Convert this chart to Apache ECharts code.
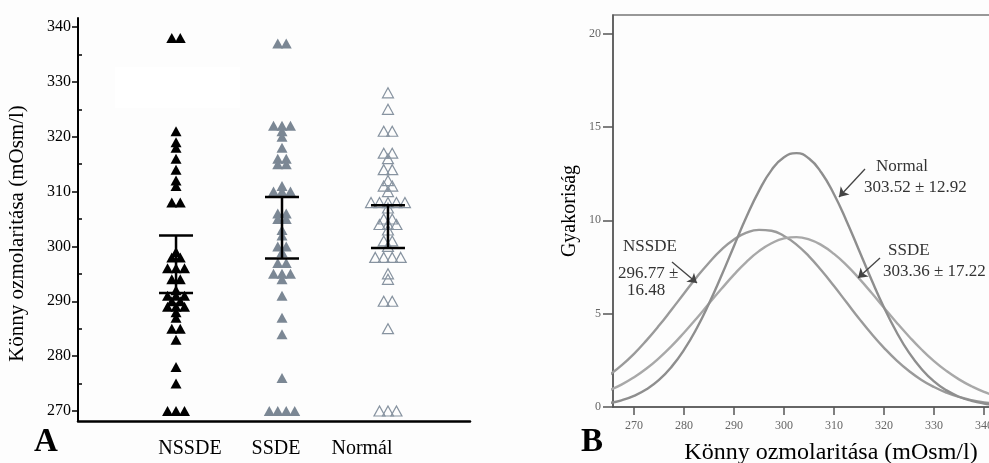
<!DOCTYPE html>
<html>
<head>
<meta charset="utf-8">
<title>Könny ozmolaritása</title>
<script src="https://cdn.jsdelivr.net/npm/echarts@6/dist/echarts.min.js"></script>
<style>
  html, body { margin: 0; padding: 0; background: #fdfdfd; }
  #chart { width: 989px; height: 463px; }
</style>
</head>
<body>
<div id="chart"></div>
<script>
// ---- panel A: individual values per group
var groups = ['NSSDE', 'SSDE', 'Normál'];
var nssde = [338, 338, 321, 319, 318, 316, 314, 312, 311, 308, 308,
  299, 298, 298, 296, 296, 296, 294, 294, 292, 291, 291, 291, 290, 290,
  289, 289, 289, 288, 287, 285, 285, 283, 278, 275, 270, 270, 270];
var ssde = [337, 337, 322, 322, 322, 321, 320, 318, 316, 316, 315, 315,
  311, 310, 310, 310, 306, 306, 305, 305, 303, 302, 300, 300, 299, 297, 297,
  295, 295, 295, 294, 291, 287, 284, 276, 270, 270, 270, 270];
var normal = [328, 325, 321, 321, 317, 317, 316, 314, 314, 312, 311, 311,
  310, 308, 308, 308, 308, 308, 307, 305, 305, 304, 304, 304, 303, 301, 301,
  300, 298, 298, 298, 298, 295, 294, 290, 290, 285, 270, 270, 270];
// interval bars (lower / upper cap)
var barLow = [291.5, 297.8, 299.7];
var barHigh = [302, 309, 307.5];
var yTicksA = [270, 280, 290, 300, 310, 320, 330, 340];
var yMinorA = [275, 285, 295, 305, 315, 325, 335];

// ---- panel B: fitted frequency curves
var curveX = [265, 267.5, 270, 272.5, 275, 277.5, 280, 282.5, 285, 287.5, 290, 292.5,
  295, 297.5, 300, 302.5, 305, 307.5, 310, 312.5, 315, 317.5, 320, 322.5,
  325, 327.5, 330, 332.5, 335, 337.5, 340, 342.5];
var curveNormal = [0.21, 0.36, 0.60, 0.95, 1.45, 2.15, 3.06, 4.19, 5.54, 7.04, 8.63, 10.19,
  11.58, 12.69, 13.38, 13.60, 13.31, 12.55, 11.40, 9.97, 8.40, 6.82, 5.33, 4.02,
  2.91, 2.04, 1.37, 0.89, 0.55, 0.33, 0.19, 0.11];
var curveSSDE = [0.89, 1.20, 1.59, 2.06, 2.62, 3.26, 3.98, 4.74, 5.54, 6.33, 7.09, 7.78,
  8.35, 8.77, 9.03, 9.10, 8.98, 8.67, 8.20, 7.60, 6.89, 6.12, 5.32, 4.53,
  3.78, 3.08, 2.46, 1.93, 1.48, 1.11, 0.81, 0.59];
var curveNSSDE = [1.70, 2.23, 2.85, 3.57, 4.36, 5.21, 6.08, 6.94, 7.73, 8.43, 8.97, 9.34,
  9.49, 9.44, 9.16, 8.70, 8.07, 7.31, 6.48, 5.61, 4.74, 3.92, 3.17, 2.50,
  1.93, 1.45, 1.07, 0.77, 0.54, 0.37, 0.25, 0.16];
var xTicksB = [270, 280, 290, 300, 310, 320, 330, 340];
var yTicksB = [0, 5, 10, 15, 20];

var SERIF = 'Liberation Serif, Times New Roman, serif';
var STEP = 0.08; // side-by-side spacing for equal values (x units)

// same values go side by side, centred on the group
function swarm(vals, center) {
  var counts = {}, seen = {};
  vals.forEach(function (v) { counts[v] = (counts[v] || 0) + 1; });
  return vals.map(function (v) {
    seen[v] = seen[v] === undefined ? 0 : seen[v] + 1;
    return [center + (seen[v] - (counts[v] - 1) / 2) * STEP, v];
  });
}

function zip(xs, ys) {
  return xs.map(function (x, i) { return [x, ys[i]]; });
}

function arrow(from, to) {
  return {
    silent: true,
    symbol: ['none', 'arrow'],
    symbolSize: 9,
    label: { show: false },
    lineStyle: { color: '#444', width: 1.3, type: 'solid' },
    data: [[{ coord: from }, { coord: to }]]
  };
}

function note(text, x, y) {
  return {
    type: 'text', left: x, top: y - 10,
    style: { text: text, fill: '#333', font: '17px ' + SERIF }
  };
}

var chart = echarts.init(document.getElementById('chart'));

var option = {
  animation: false,
  backgroundColor: '#fdfdfd',
  grid: [
    { left: 78, right: 519, top: 18, bottom: 42, outerBoundsMode: 'none', containLabel: false },
    { left: 613, right: -2, top: 15, bottom: 56, outerBoundsMode: 'none', containLabel: false,
      show: true, borderColor: '#777', borderWidth: 1.5 }
  ],
  xAxis: [
    {
      gridIndex: 0, type: 'value', min: 0.075, max: 3.774, position: 'bottom',
      axisLine: { onZero: false, lineStyle: { color: '#000', width: 2.5 } },
      axisTick: { show: false }, axisLabel: { show: false }, splitLine: { show: false }
    },
    {
      gridIndex: 0, type: 'value', min: -0.302, max: 4.256, position: 'bottom',
      axisLine: { show: false, onZero: false }, axisTick: { show: false }, splitLine: { show: false },
      axisLabel: {
        customValues: [1, 2, 3], margin: 18,
        color: '#000', fontSize: 20, fontFamily: SERIF,
        formatter: function (v) { return groups[Math.round(v) - 1]; }
      }
    },
    {
      gridIndex: 1, type: 'value', min: 265.8, max: 341.4,
      name: 'Könny ozmolaritása (mOsm/l)', nameLocation: 'middle', nameGap: 34,
      nameTextStyle: { color: '#000', fontSize: 24, fontFamily: SERIF, padding: [0, 0, 0, 58] },
      axisLine: { onZero: false, lineStyle: { color: '#555', width: 1.5 } },
      axisTick: { customValues: xTicksB, length: 8, lineStyle: { color: '#555', width: 1.5 } },
      axisLabel: { customValues: xTicksB, margin: 13, color: '#666', fontSize: 12, fontFamily: SERIF },
      splitLine: { show: false }
    }
  ],
  yAxis: [
    {
      gridIndex: 0, type: 'value', min: 268.17, max: 341.65, position: 'left',
      name: 'Könny ozmolaritása (mOsm/l)', nameLocation: 'middle', nameGap: 50,
      nameTextStyle: { color: '#000', fontSize: 21, fontFamily: SERIF, padding: [0, 28, 0, 0] },
      axisLine: { show: true, onZero: false, lineStyle: { color: '#000', width: 2 } },
      axisTick: { customValues: yTicksA, length: 6, lineStyle: { color: '#000', width: 1.5 } },
      axisLabel: { customValues: yTicksA, margin: 7, color: '#000', fontSize: 16, fontFamily: SERIF },
      splitLine: { show: false }
    },
    {
      gridIndex: 0, type: 'value', min: 268.17, max: 341.65, position: 'left', offset: 0,
      axisLine: { show: false, onZero: false }, axisLabel: { show: false }, splitLine: { show: false },
      axisTick: { customValues: yMinorA, inside: true, length: 4, lineStyle: { color: '#000', width: 1.5 } }
    },
    {
      gridIndex: 1, type: 'value', min: 0, max: 21,
      name: 'Gyakoriság', nameLocation: 'middle', nameGap: 33,
      nameTextStyle: { color: '#000', fontSize: 20, fontFamily: SERIF },
      axisLine: { show: true, onZero: false, lineStyle: { color: '#555', width: 1.5 } },
      axisTick: { customValues: yTicksB, length: 10, lineStyle: { color: '#555', width: 1.5 } },
      axisLabel: { customValues: yTicksB, margin: 12, color: '#666', fontSize: 12, fontFamily: SERIF },
      splitLine: { show: false }
    }
  ],
  series: [
    {
      type: 'scatter', xAxisIndex: 0, yAxisIndex: 0, symbol: 'triangle', symbolSize: [11, 10],
      itemStyle: { color: '#000', opacity: 1 }, data: swarm(nssde, 1)
    },
    {
      type: 'scatter', xAxisIndex: 0, yAxisIndex: 0, symbol: 'triangle', symbolSize: [11, 10],
      itemStyle: { color: '#7b8794', opacity: 1 }, data: swarm(ssde, 2)
    },
    {
      type: 'scatter', xAxisIndex: 0, yAxisIndex: 0, symbol: 'triangle', symbolSize: [11, 10],
      itemStyle: { color: 'transparent', borderColor: '#8793a0', borderWidth: 1.2, opacity: 1 },
      data: swarm(normal, 3)
    },
    {
      type: 'custom', xAxisIndex: 0, yAxisIndex: 0, z: 10,
      data: groups.map(function (g, i) { return [i + 1, barLow[i], barHigh[i]]; }),
      renderItem: function (params, api) {
        var x = api.value(0);
        var lo = api.coord([x, api.value(1)]);
        var hi = api.coord([x, api.value(2)]);
        var w = 17;
        var st = { stroke: '#000', lineWidth: 2.5 };
        return {
          type: 'group',
          children: [
            { type: 'line', shape: { x1: lo[0], y1: lo[1], x2: hi[0], y2: hi[1] }, style: st },
            { type: 'line', shape: { x1: lo[0] - w, y1: lo[1], x2: lo[0] + w, y2: lo[1] }, style: st },
            { type: 'line', shape: { x1: hi[0] - w, y1: hi[1], x2: hi[0] + w, y2: hi[1] }, style: st }
          ]
        };
      }
    },
    {
      type: 'line', xAxisIndex: 2, yAxisIndex: 2, smooth: true, symbol: 'none',
      lineStyle: { color: '#9a9a9a', width: 2.4 }, data: zip(curveX, curveNSSDE),
      markLine: arrow([277.6, 7.77], [282.6, 6.64])
    },
    {
      type: 'line', xAxisIndex: 2, yAxisIndex: 2, smooth: true, symbol: 'none',
      lineStyle: { color: '#a8a8a8', width: 2.4 }, data: zip(curveX, curveSSDE),
      markLine: arrow([319.2, 7.98], [314.8, 6.91])
    },
    {
      type: 'line', xAxisIndex: 2, yAxisIndex: 2, smooth: true, symbol: 'none',
      lineStyle: { color: '#8e8e8e', width: 2.4 }, data: zip(curveX, curveNormal),
      markLine: arrow([316.2, 12.75], [311.0, 11.25])
    }
  ],
  graphic: [
    { type: 'rect', left: 115, top: 67, shape: { width: 125, height: 41 }, style: { fill: '#ffffff' }, z: -10 },
    { type: 'text', left: 34, top: 426, style: { text: 'A', fill: '#000', font: 'bold 33px ' + SERIF } },
    { type: 'text', left: 581, top: 426, style: { text: 'B', fill: '#000', font: 'bold 33px ' + SERIF } },
    note('Normal', 876, 168),
    note('303.52 ± 12.92', 864, 189),
    note('NSSDE', 623, 248),
    note('296.77 ±', 618, 275),
    note('16.48', 627, 292),
    note('SSDE', 888, 252),
    note('303.36 ± 17.22', 883, 273)
  ]
};

chart.setOption(option);
</script>
</body>
</html>
